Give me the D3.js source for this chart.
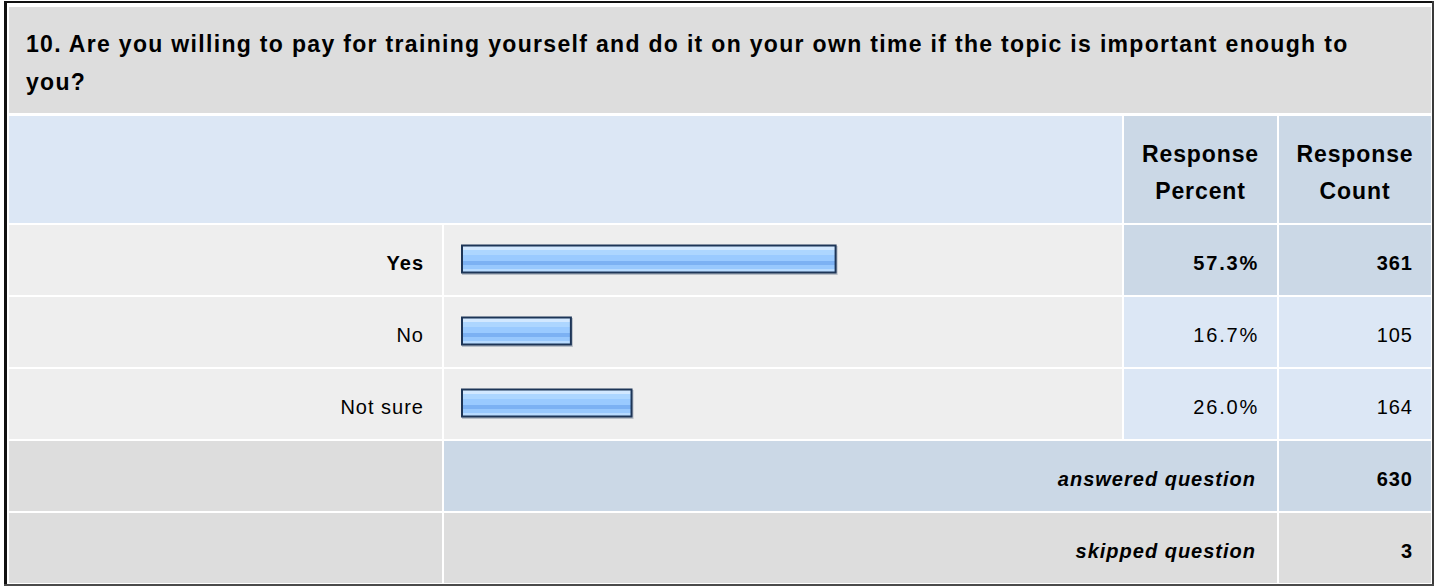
<!DOCTYPE html>
<html>
<head>
<meta charset="utf-8">
<script src="https://cdn.jsdelivr.net/npm/d3@7"></script>
<style>
  html, body { margin: 0; padding: 0; background: #ffffff; }
  svg { display: block; }
  text { font-family: "Liberation Sans", Arial, Helvetica, sans-serif; fill: #000; }
</style>
</head>
<body>
<svg id="chart" width="1437" height="586"></svg>
<script>
// Survey question and results
const questionText = "10. Are you willing to pay for training yourself and do it on your own time if the topic is important enough to you?";
const answers = ["Yes", "No", "Not sure"];
const percents = [57.3, 16.7, 26.0];
const counts = [361, 105, 164];
const headerLabels = [["Response", "Percent"], ["Response", "Count"]];
const summaryLabels = ["answered question", "skipped question"];
const summaryCounts = [630, 3];

const W = 1437, H = 586;
const svg = d3.select("#chart");

// Table grid (cell edges)
const col = { c0: [9, 442], c1: [444, 1122], c2: [1124, 1277], c3: [1279, 1431] };
const rowTitle = [7, 113];
const rowHead = [116, 223];
const rowTops = [225, 297, 369, 441, 513];
const rowH = 70;

const C = {
  gray: "#dddddd",
  light: "#eeeeee",
  blue: "#dce7f5",
  steel: "#cbd8e6"
};

// Outer frame
svg.append("rect").attr("x", 0).attr("y", 0).attr("width", W).attr("height", H).attr("fill", "#ffffff");
svg.append("rect").attr("x", 4).attr("y", 1).attr("width", 1430).attr("height", 2).attr("fill", "#111");
svg.append("rect").attr("x", 4).attr("y", 1).attr("width", 3).attr("height", 585).attr("fill", "#111");
svg.append("rect").attr("x", 1432).attr("y", 1).attr("width", 2).attr("height", 585).attr("fill", "#3a3a3a");
svg.append("rect").attr("x", 4).attr("y", 584).attr("width", 1430).attr("height", 2).attr("fill", "#4a4a4a");

function cell(x0, x1, y0, y1, fill) {
  svg.append("rect").attr("x", x0).attr("y", y0)
    .attr("width", x1 - x0).attr("height", y1 - y0).attr("fill", fill);
}

const FS = 20;
function label(x, y, str, opts = {}) {
  return svg.append("text")
    .attr("x", x).attr("y", y)
    .attr("text-anchor", opts.anchor || "start")
    .attr("font-size", opts.size || FS)
    .attr("font-weight", opts.bold ? "bold" : "normal")
    .attr("font-style", opts.italic ? "italic" : "normal")
    .attr("letter-spacing", (opts.ls != null ? opts.ls : 1) + "px")
    .text(str);
}

// Title cell with word wrapping
cell(col.c0[0], col.c3[1], rowTitle[0], rowTitle[1], C.gray);
const titleText = svg.append("text")
  .attr("x", 26).attr("y", 52)
  .attr("font-size", 23).attr("font-weight", "bold")
  .attr("letter-spacing", "1.32px");
{
  const maxWidth = 1365;
  const words = questionText.split(" ");
  let line = [], tspan = titleText.append("tspan").attr("x", 26).attr("y", 52);
  let lineNo = 0;
  words.forEach(w => {
    line.push(w);
    tspan.text(line.join(" "));
    if (tspan.node().getComputedTextLength() > maxWidth && line.length > 1) {
      line.pop();
      tspan.text(line.join(" "));
      line = [w];
      lineNo++;
      tspan = titleText.append("tspan").attr("x", 26).attr("y", 52 + lineNo * 38).text(w);
    }
  });
}

// Header row
cell(col.c0[0], col.c1[1], rowHead[0], rowHead[1], C.blue);
cell(col.c2[0], col.c2[1], rowHead[0], rowHead[1], C.steel);
cell(col.c3[0], col.c3[1], rowHead[0], rowHead[1], C.steel);
[col.c2, col.c3].forEach((c, i) => {
  const cx = (c[0] + c[1]) / 2;
  headerLabels[i].forEach((t, j) =>
    label(cx, 162 + j * 37, t, { anchor: "middle", bold: true, size: 23, ls: 0.9 }));
});

// Bar scale
const x = d3.scaleLinear().domain([0, 100]).range([463, 1115]);
const barX0 = 461;

const defs = svg.append("defs");
const grad = defs.append("linearGradient").attr("id", "barFill")
  .attr("x1", 0).attr("x2", 0).attr("y1", 0).attr("y2", 1);
[
  [0.00, "#d2e8ff"], [0.16, "#d2e8ff"],
  [0.16, "#add6ff"], [0.36, "#add6ff"],
  [0.36, "#9acaff"], [0.56, "#9acaff"],
  [0.56, "#7cb1f3"], [0.74, "#7cb1f3"],
  [0.74, "#98c8fd"], [0.88, "#98c8fd"],
  [0.88, "#b8dbff"], [1.00, "#b8dbff"]
].forEach(([o, c]) => grad.append("stop").attr("offset", o).attr("stop-color", c));

const fmtPct = v => d3.format(".1f")(v) + "%";

// Answer rows
answers.forEach((a, i) => {
  const y0 = rowTops[i], y1 = y0 + rowH;
  const strong = i === 0;
  cell(col.c0[0], col.c0[1], y0, y1, C.light);
  cell(col.c1[0], col.c1[1], y0, y1, C.light);
  cell(col.c2[0], col.c2[1], y0, y1, strong ? C.steel : C.blue);
  cell(col.c3[0], col.c3[1], y0, y1, strong ? C.steel : C.blue);
  label(424, y0 + 45, a, { anchor: "end", bold: strong });
  // shadow + bar
  svg.append("rect")
    .attr("x", barX0 + 1).attr("y", y0 + 21)
    .attr("width", x(percents[i]) - barX0).attr("height", 29)
    .attr("fill", "#b9bfc7");
  svg.append("rect")
    .attr("x", barX0 + 1).attr("y", y0 + 20.5)
    .attr("width", x(percents[i]) - barX0 - 2).attr("height", 27)
    .attr("fill", "url(#barFill)")
    .attr("stroke", "#1d3557").attr("stroke-width", 2);
  label(1259, y0 + 45, fmtPct(percents[i]), { anchor: "end", bold: strong, ls: 1.8 });
  label(1413, y0 + 45, counts[i], { anchor: "end", bold: strong });
});

// Summary rows
summaryLabels.forEach((s, k) => {
  const y0 = rowTops[3 + k], y1 = y0 + rowH;
  const fill = k === 0 ? C.steel : C.gray;
  cell(col.c0[0], col.c0[1], y0, y1, C.gray);
  cell(col.c1[0], col.c2[1], y0, y1, fill);
  cell(col.c3[0], col.c3[1], y0, y1, fill);
  label(1256, y0 + 45, s, { anchor: "end", bold: true, italic: true });
  label(1413, y0 + 45, summaryCounts[k], { anchor: "end", bold: true });
});
</script>
</body>
</html>
